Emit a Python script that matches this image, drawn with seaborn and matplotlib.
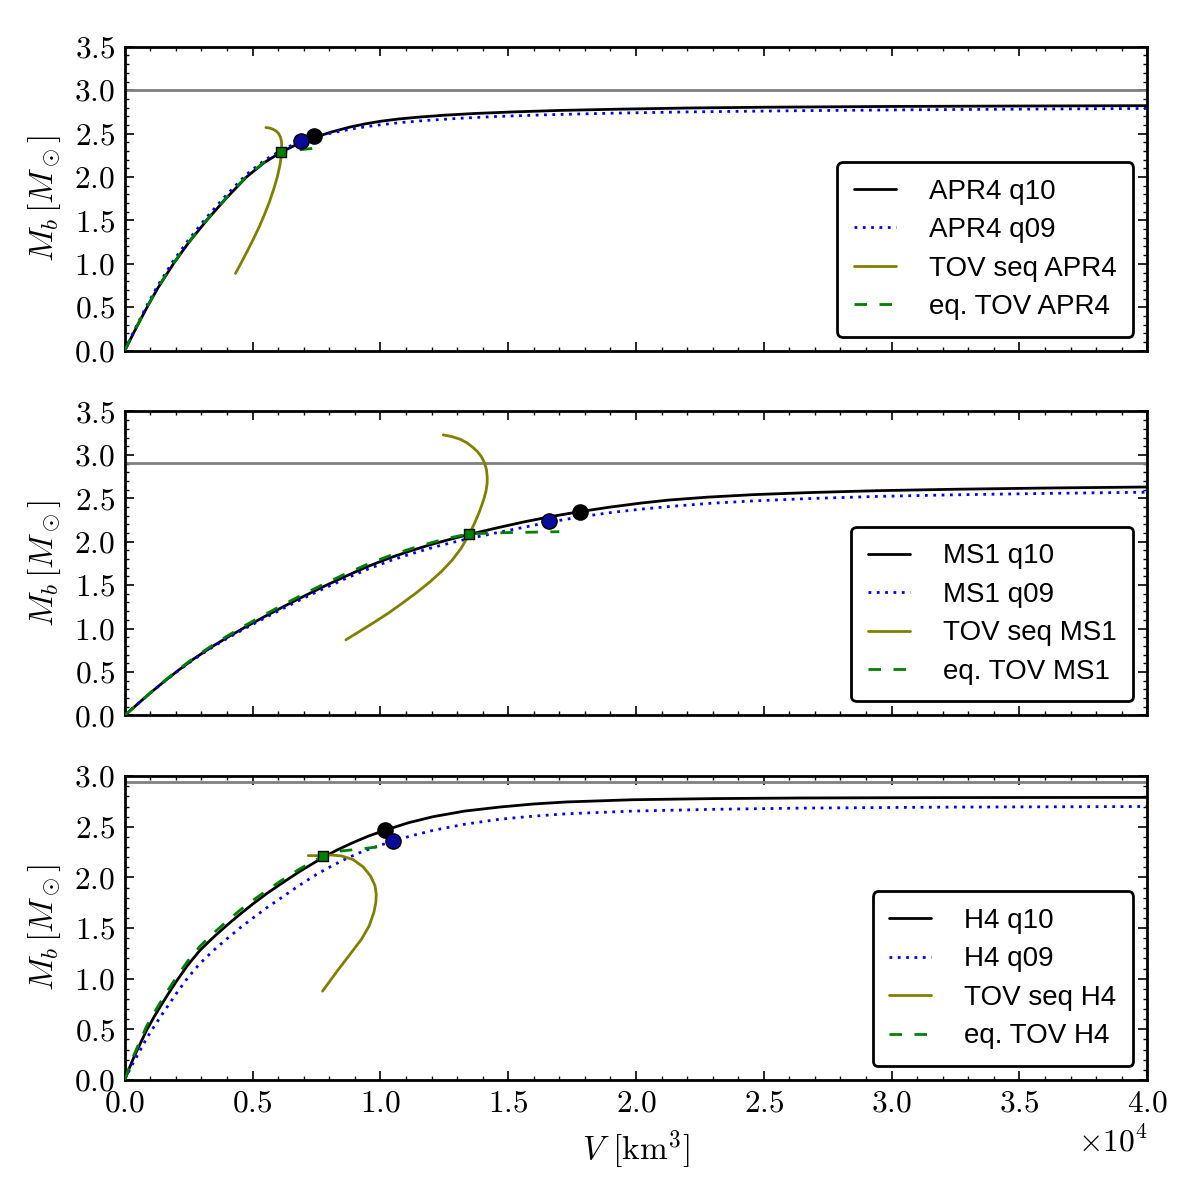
import numpy as np
import pandas as pd
import seaborn as sns
import matplotlib.pyplot as plt
from matplotlib.ticker import AutoMinorLocator, MultipleLocator, ScalarFormatter
from matplotlib.font_manager import FontProperties

# ---------------- APR4 (top panel) ----------------
apr4_q10_v = [0, 200, 450, 870, 1300, 1900, 2500, 3200, 3950, 4760, 5450, 6130, 6800, 7410, 8100,
              8800, 9400, 10000, 10700, 11500, 12500, 13700, 15200, 17000, 19400, 22000, 25000,
              30000, 35000, 40000]
apr4_q10_m = [0, 0.12, 0.265, 0.50, 0.725, 1.00, 1.245, 1.50, 1.75, 2.00, 2.165, 2.29, 2.385, 2.455,
              2.52, 2.575, 2.612, 2.642, 2.668, 2.69, 2.712, 2.732, 2.75, 2.767, 2.782, 2.795,
              2.804, 2.813, 2.818, 2.822]
apr4_q09_v = [0, 200, 450, 870, 1300, 1900, 2500, 3200, 3950, 4760, 5450, 6130, 6888, 7600, 8300,
              9000, 9800, 10700, 11700, 13000, 14500, 16500, 19000, 22000, 26000, 31000, 40000]
apr4_q09_m = [0, 0.13, 0.28, 0.525, 0.755, 1.035, 1.28, 1.535, 1.785, 2.03, 2.19, 2.31, 2.415, 2.475,
              2.52, 2.56, 2.595, 2.625, 2.65, 2.675, 2.697, 2.717, 2.735, 2.75, 2.763, 2.775, 2.79]
apr4_tov_v = [4330, 4550, 4780, 5020, 5250, 5460, 5660, 5830, 5970, 6065, 6120, 6140, 6130, 6090,
              6020, 5920, 5800, 5660, 5520]
apr4_tov_m = [0.89, 1.01, 1.14, 1.28, 1.42, 1.565, 1.715, 1.865, 2.005, 2.13, 2.24, 2.34, 2.41, 2.46,
              2.50, 2.53, 2.55, 2.565, 2.57]
apr4_eq_v = [0, 200, 450, 870, 1300, 1900, 2500, 3200, 3950, 4760, 5450, 6130, 6700, 7350]
apr4_eq_m = [0, 0.125, 0.27, 0.505, 0.73, 1.005, 1.25, 1.505, 1.755, 2.005, 2.17, 2.29, 2.31, 2.33]
apr4_sq = (6130, 2.29)
apr4_dot_q10 = (7410, 2.47)
apr4_dot_q09 = (6888, 2.42)
apr4_mmax = 3.0

# ---------------- MS1 (middle panel) ----------------
ms1_q10_v = [0, 500, 1000, 1500, 2020, 2700, 3400, 4000, 4700, 5500, 6300, 7000, 7760, 8600, 9500,
             10400, 11200, 12070, 12800, 13470, 14500, 15600, 16700, 17800, 19000, 20200, 21300,
             22800, 24600, 26800, 29500, 32500, 36000, 40000]
ms1_q10_m = [0, 0.13, 0.258, 0.38, 0.502, 0.651, 0.788, 0.896, 1.014, 1.142, 1.266, 1.371, 1.481,
             1.597, 1.714, 1.817, 1.897, 1.975, 2.033, 2.083, 2.155, 2.227, 2.291, 2.346, 2.399,
             2.445, 2.48, 2.513, 2.542, 2.566, 2.588, 2.604, 2.618, 2.63]
ms1_q09_v = [0, 500, 1000, 1500, 2020, 2700, 3400, 4000, 4700, 5500, 6300, 7000, 7760, 8600, 9500,
             10400, 11200, 12070, 12800, 13470, 14500, 15600, 16600, 17800, 19000, 20200, 21300,
             22800, 24600, 26800, 29500, 32500, 36000, 40000]
ms1_q09_m = [0, 0.13, 0.257, 0.378, 0.498, 0.645, 0.78, 0.886, 1.0, 1.125, 1.247, 1.35, 1.457, 1.57,
             1.683, 1.783, 1.86, 1.935, 1.99, 2.036, 2.10, 2.165, 2.225, 2.285, 2.335, 2.375,
             2.405, 2.44, 2.47, 2.497, 2.522, 2.54, 2.556, 2.57]
ms1_tov_v = [8650, 9200, 9750, 10300, 10850, 11400, 11950, 12400, 12800, 13150, 13465, 13680, 13880,
             14030, 14130, 14175, 14180, 14150, 14070, 13950, 13790, 13600, 13380, 13120, 12800, 12460]
ms1_tov_m = [0.87, 0.97, 1.07, 1.175, 1.29, 1.41, 1.54, 1.66, 1.785, 1.92, 2.08, 2.21, 2.35, 2.475,
             2.58, 2.67, 2.74, 2.83, 2.91, 2.98, 3.04, 3.09, 3.14, 3.18, 3.21, 3.23]
ms1_eq_v = [0, 500, 1000, 1500, 2020, 2700, 3400, 4000, 4700, 5500, 6300, 7000, 7760, 8600, 9500,
            10400, 11200, 12070, 12800, 13470, 15000, 17000]
ms1_eq_m = [0, 0.13, 0.26, 0.385, 0.51, 0.662, 0.802, 0.913, 1.034, 1.165, 1.29, 1.397, 1.508,
            1.625, 1.741, 1.843, 1.92, 1.995, 2.05, 2.09, 2.105, 2.115]
ms1_sq = (13470, 2.09)
ms1_dot_q10 = (17800, 2.34)
ms1_dot_q09 = (16600, 2.24)
ms1_mmax = 2.91

# ---------------- H4 (bottom panel) ----------------
h4_q10_v = [0, 150, 330, 550, 850, 1150, 1450, 1750, 2020, 2450, 2940, 3450, 3980, 4500, 5020, 5550,
            6070, 6850, 7740, 8300, 8940, 9550, 10180, 11100, 12070, 13300, 14680, 16000, 17290,
            19900, 23000, 26400, 32000, 40000]
h4_q10_m = [0, 0.10, 0.21, 0.33, 0.49, 0.625, 0.75, 0.87, 0.975, 1.13, 1.28, 1.405, 1.525, 1.635,
            1.74, 1.84, 1.93, 2.06, 2.195, 2.27, 2.345, 2.41, 2.465, 2.54, 2.60, 2.655, 2.695,
            2.725, 2.745, 2.767, 2.778, 2.784, 2.788, 2.79]
h4_q09_v = [0, 150, 330, 550, 850, 1150, 1450, 1750, 2020, 2450, 2940, 3450, 3980, 4500, 5020, 5550,
            6070, 6850, 7500, 8150, 8700, 9200, 9850, 10500, 11200, 12070, 13300, 14680, 16000,
            17290, 19900, 23000, 26400, 32000, 40000]
h4_q09_m = [0, 0.08, 0.17, 0.27, 0.41, 0.53, 0.645, 0.755, 0.855, 1.005, 1.15, 1.275, 1.39, 1.50,
            1.60, 1.70, 1.79, 1.925, 2.03, 2.12, 2.19, 2.245, 2.305, 2.36, 2.41, 2.465, 2.525,
            2.575, 2.605, 2.628, 2.655, 2.672, 2.684, 2.694, 2.70]
h4_tov_v = [7737, 8311, 8833, 9263, 9563, 9746, 9824, 9837, 9785, 9615, 9328, 8937, 8480, 8023,
            7737, 7176]
h4_tov_m = [0.877, 1.076, 1.248, 1.391, 1.523, 1.656, 1.755, 1.838, 1.921, 2.013, 2.103, 2.175,
            2.212, 2.222, 2.215, 2.215]
h4_eq_v = [0, 150, 330, 550, 850, 1150, 1450, 1750, 2020, 2450, 2940, 3450, 3980, 4500, 5020, 5550,
           6070, 6850, 7740, 8420, 9200, 9850]
h4_eq_m = [0, 0.11, 0.23, 0.36, 0.53, 0.665, 0.79, 0.91, 1.015, 1.17, 1.32, 1.445, 1.565, 1.675,
           1.775, 1.87, 1.96, 2.085, 2.21, 2.26, 2.28, 2.30]
h4_sq = (7740, 2.21)
h4_dot_q10 = (10180, 2.47)
h4_dot_q09 = (10500, 2.36)
h4_mmax = 2.94

eos_names = ["APR4", "MS1", "H4"]
y_tops = [3.5, 3.5, 3.0]

panels = [
    (apr4_q10_v, apr4_q10_m, apr4_q09_v, apr4_q09_m, apr4_tov_v, apr4_tov_m,
     apr4_eq_v, apr4_eq_m, apr4_sq, apr4_dot_q10, apr4_dot_q09, apr4_mmax),
    (ms1_q10_v, ms1_q10_m, ms1_q09_v, ms1_q09_m, ms1_tov_v, ms1_tov_m,
     ms1_eq_v, ms1_eq_m, ms1_sq, ms1_dot_q10, ms1_dot_q09, ms1_mmax),
    (h4_q10_v, h4_q10_m, h4_q09_v, h4_q09_m, h4_tov_v, h4_tov_m,
     h4_eq_v, h4_eq_m, h4_sq, h4_dot_q10, h4_dot_q09, h4_mmax),
]

sns.set_style("ticks")
plt.rcParams.update({
    'font.family': 'serif',
    'font.serif': ['cmr10'],
    'mathtext.fontset': 'cm',
    'axes.formatter.use_mathtext': True,
    'axes.unicode_minus': False,
    'text.color': 'black',
    'axes.labelcolor': 'black',
    'xtick.color': 'black',
    'ytick.color': 'black',
    'axes.edgecolor': 'black',
    'axes.linewidth': 1.0,
    'xtick.direction': 'in',
    'ytick.direction': 'in',
    'xtick.top': True,
    'ytick.right': True,
    'xtick.major.size': 3.2,
    'ytick.major.size': 3.2,
    'xtick.minor.size': 1.6,
    'ytick.minor.size': 1.6,
    'xtick.major.width': 0.6,
    'ytick.major.width': 0.6,
    'xtick.minor.width': 0.5,
    'ytick.minor.width': 0.5,
    'xtick.labelsize': 11.3,
    'ytick.labelsize': 11.3,
})

legend_font = FontProperties(family='Liberation Sans', size=10)

fig, axes = plt.subplots(3, 1, figsize=(6, 6), dpi=200, sharex=True)
fig.subplots_adjust(left=0.104, right=0.956, top=0.961, bottom=0.10, hspace=0.2)

for ax, name, ytop, p in zip(axes, eos_names, y_tops, panels):
    q10_v, q10_m, q09_v, q09_m, tov_v, tov_m, eq_v, eq_m, sq, d10, d09, mmax = p

    ax.axhline(mmax, color='#808080', linewidth=1.0, zorder=1)
    sns.lineplot(x=q10_v, y=q10_m, ax=ax, color='black', linewidth=1.0,
                 sort=False, estimator=None, label=f"{name} q10", zorder=2)
    sns.lineplot(x=q09_v, y=q09_m, ax=ax, color='blue', linewidth=1.0,
                 linestyle=(0, (1, 2)), sort=False, estimator=None,
                 label=f"{name} q09", zorder=2)
    sns.lineplot(x=tov_v, y=tov_m, ax=ax, color='olive', linewidth=1.0,
                 sort=False, estimator=None, label=f"TOV seq {name}", zorder=3)
    sns.lineplot(x=eq_v, y=eq_m, ax=ax, color='green', linewidth=1.0,
                 linestyle=(0, (4.5, 4.5)), sort=False, estimator=None,
                 label=f"eq. TOV {name}", zorder=3)

    sns.scatterplot(x=[d10[0]], y=[d10[1]], ax=ax, color='black', marker='o', s=30,
                    edgecolor='black', linewidth=0.5, zorder=5)
    sns.scatterplot(x=[d09[0]], y=[d09[1]], ax=ax, color='#0a0a99', marker='o', s=30,
                    edgecolor='black', linewidth=0.5, zorder=5)
    sns.scatterplot(x=[sq[0]], y=[sq[1]], ax=ax, color='green', marker='s', s=14,
                    edgecolor='black', linewidth=0.5, zorder=6)

    ax.set_xlim(0, 40000)
    ax.set_ylim(0, ytop)
    ax.yaxis.set_major_locator(MultipleLocator(0.5))
    ax.yaxis.set_minor_locator(AutoMinorLocator(5))
    ax.xaxis.set_major_locator(MultipleLocator(5000))
    ax.xaxis.set_minor_locator(AutoMinorLocator(5))
    ax.tick_params(which='both', direction='in', top=True, right=True)
    ax.set_ylabel(r"$M_b\,[M_\odot]$", fontsize=12)
    ax.set_xlabel("")
    for spine in ax.spines.values():
        spine.set_color('black')
        spine.set_linewidth(1.0)

    handles, labels = ax.get_legend_handles_labels()
    ax.legend(handles, labels, loc='lower right', prop=legend_font, frameon=True,
              fancybox=True, framealpha=1.0, facecolor='white', edgecolor='black',
              handlelength=1.5, handletextpad=1.2, labelspacing=0.45,
              borderpad=0.6, borderaxespad=0.5)
    ax.get_legend().get_frame().set_linewidth(1.0)

fmt = ScalarFormatter(useMathText=True)
fmt.set_powerlimits((-3, 3))
axes[-1].xaxis.set_major_formatter(fmt)
axes[-1].set_xlabel(r"$V$ $[\mathrm{km}^3]$", fontsize=12)
axes[-1].xaxis.get_offset_text().set_fontsize(11.3)

fig.align_ylabels(axes)
plt.savefig('out.png', dpi=200, facecolor='white')
plt.close()
